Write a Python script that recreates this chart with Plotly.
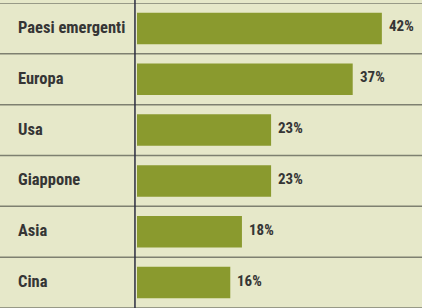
import plotly.graph_objects as go

categories = ["Paesi emergenti", "Europa", "Usa", "Giappone", "Asia", "Cina"]
values = [42, 37, 23, 23, 18, 16]
value_labels = ["42%", "37%", "23%", "23%", "18%", "16%"]

BG = "#e6e8c9"
BAR = "#8a9a2e"
TXT = "#353535"
FONT = "Liberation Sans Narrow, Roboto Condensed, Arial Narrow, Liberation Sans, sans-serif"

W, H = 422, 308
x0_px = 137
px_per_unit = 5.83
xmin = -x0_px / px_per_unit
xmax = (W - x0_px) / px_per_unit

fig = go.Figure(go.Bar(
    x=values, y=categories, orientation="h",
    marker=dict(color=BAR, line=dict(width=0)),
    width=0.62, hoverinfo="skip",
))

annotations = []
for c, v, t in zip(categories, values, value_labels):
    annotations.append(dict(x=v, y=c, text="<b>%s</b>" % t, showarrow=False,
                            xanchor="left", xshift=5, yshift=2,
                            font=dict(family=FONT, size=15, color=TXT)))
    annotations.append(dict(x=xmin + 16 / px_per_unit, y=c, text="<b>%s</b>" % c,
                            showarrow=False, xanchor="left", yshift=1,
                            font=dict(family=FONT, size=16.5, color=TXT)))

shapes = []
for i in range(len(categories) + 1):
    shapes.append(dict(type="line", xref="paper", x0=0, x1=1, yref="y",
                       y0=i - 0.5, y1=i - 0.5,
                       line=dict(color="#7e8070", width=1.5)))
shapes.append(dict(type="line", xref="x", x0=-0.35, x1=-0.35, yref="paper",
                   y0=0, y1=1.02, line=dict(color="#2a2d40", width=1.5)))

fig.update_layout(
    width=W, height=H,
    margin=dict(l=0, r=0, t=3, b=0),
    paper_bgcolor=BG, plot_bgcolor=BG,
    showlegend=False,
    xaxis=dict(range=[xmin, xmax], visible=False, fixedrange=True),
    yaxis=dict(range=[len(categories) - 0.5, -0.5], visible=False,
               categoryorder="array", categoryarray=categories, fixedrange=True),
    annotations=annotations, shapes=shapes,
)

fig.write_html("out.html", config={"displayModeBar": False},
               post_script="document.body.style.margin='0';document.body.style.overflow='hidden';document.body.style.background='%s';" % BG)
